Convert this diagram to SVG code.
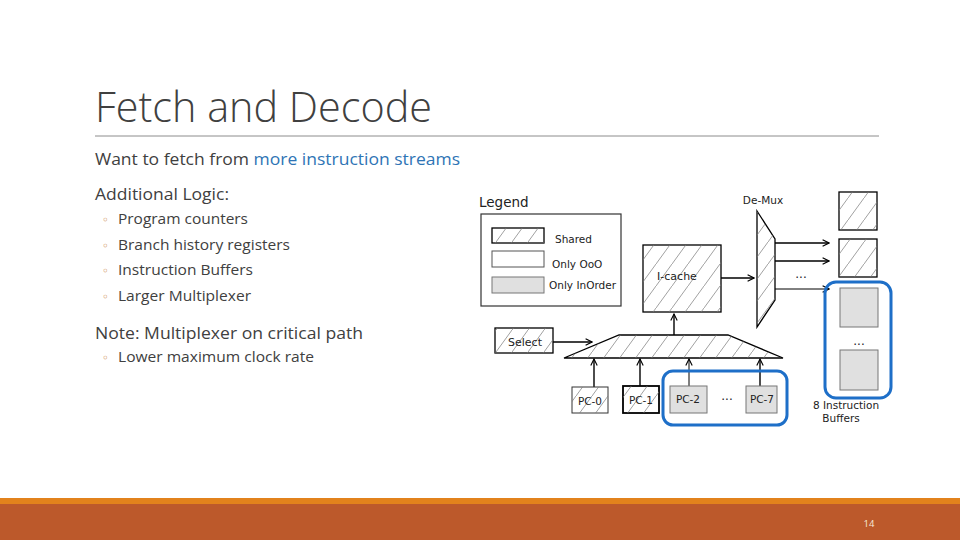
<svg xmlns="http://www.w3.org/2000/svg" width="960" height="540" viewBox="0 0 960 540">
<defs>
<pattern id="hatch" patternUnits="userSpaceOnUse" width="16" height="22">
<path d="M-2,24.75 L18,-2.75" stroke="#777" stroke-width="0.7" fill="none"/>
</pattern>
<marker id="arr" viewBox="0 0 10 10" refX="9" refY="5" markerWidth="8" markerHeight="8" orient="auto" markerUnits="userSpaceOnUse">
<path d="M1,1 L9,5 L1,9" fill="none" stroke="#000" stroke-width="1.4"/>
</marker>
</defs>
<style>
.slide{font-family:"Open Sans","Liberation Sans",sans-serif;fill:#404040}
.dg{font-family:"DejaVu Sans","Liberation Sans",sans-serif;fill:#222}
.box{stroke:#000;stroke-width:1.3}
.hat{fill:url(#hatch)}
.gray{fill:#e0e0e0;stroke:#777;stroke-width:1}
.blue{fill:none;stroke:#1e6fc8;stroke-width:3}
.conn line{stroke:#000;stroke-width:1.4;marker-end:url(#arr)}
</style>
<rect width="960" height="540" fill="#fff"/>
<!-- slide text -->
<text class="slide" x="95" y="122" font-size="42" textLength="337" lengthAdjust="spacingAndGlyphs" font-weight="300">Fetch and Decode</text>
<line x1="95" y1="136" x2="879" y2="136" stroke="#8c8c8c" stroke-width="1"/>
<text class="slide" x="95" y="165" font-size="16.5" textLength="365" lengthAdjust="spacingAndGlyphs">Want to fetch from <tspan fill="#2e74b5">more instruction streams</tspan></text>
<text class="slide" x="95" y="200" font-size="17" textLength="134" lengthAdjust="spacingAndGlyphs">Additional Logic:</text>
<g font-size="12" fill="#c8803f" font-family="DejaVu Sans,sans-serif">
<text x="102" y="224">◦</text><text x="102" y="250">◦</text><text x="102" y="275">◦</text><text x="102" y="301">◦</text><text x="102" y="362">◦</text>
</g>
<text class="slide" x="118" y="224" font-size="14.5" textLength="130" lengthAdjust="spacingAndGlyphs">Program counters</text>
<text class="slide" x="118" y="250" font-size="14.5" textLength="172" lengthAdjust="spacingAndGlyphs">Branch history registers</text>
<text class="slide" x="118" y="275" font-size="14.5" textLength="135" lengthAdjust="spacingAndGlyphs">Instruction Buffers</text>
<text class="slide" x="118" y="301" font-size="14.5" textLength="133" lengthAdjust="spacingAndGlyphs">Larger Multiplexer</text>
<text class="slide" x="95" y="339" font-size="17" textLength="268" lengthAdjust="spacingAndGlyphs">Note: Multiplexer on critical path</text>
<text class="slide" x="118" y="362" font-size="14.5" textLength="196" lengthAdjust="spacingAndGlyphs">Lower maximum clock rate</text>

<!-- legend -->
<g id="legend">
<text class="dg" x="479" y="207" font-size="13.5">Legend</text>
<rect x="481" y="214" width="140" height="92" fill="#fff" stroke="#333" stroke-width="1.2"/>
<rect x="492" y="228" width="52" height="15" fill="#fff" class="box" stroke-width="1"/>
<rect x="492" y="228" width="52" height="15" class="hat"/>
<text class="dg" x="555" y="243" font-size="10.5">Shared</text>
<rect x="492" y="251" width="52" height="16" fill="#fff" stroke="#555" stroke-width="1"/>
<text class="dg" x="552" y="268" font-size="10.5">Only OoO</text>
<rect x="492" y="277" width="52" height="16" class="gray"/>
<text class="dg" x="549" y="289" font-size="10.5">Only InOrder</text>
</g>

<!-- connectors -->
<g id="connectors" class="conn">
<line x1="721" y1="278" x2="754" y2="278"/>
<line x1="775" y1="243" x2="829" y2="243"/>
<line x1="775" y1="261" x2="829" y2="261"/>
<line x1="775" y1="289" x2="829" y2="289" style="stroke-width:1"/>
<line x1="674" y1="335" x2="674" y2="314"/>
<line x1="553" y1="342" x2="592" y2="342"/>
<line x1="594" y1="387" x2="594" y2="359"/>
<line x1="640" y1="386" x2="640" y2="359"/>
<line x1="689" y1="386" x2="689" y2="359" style="stroke-width:1"/>
<line x1="760" y1="386" x2="760" y2="359"/>
</g>

<g id="icache">
<rect x="643" y="245" width="78" height="67" fill="#fff" class="box"/>
<rect x="643" y="245" width="78" height="67" class="hat"/>
<text class="dg" x="677" y="280" font-size="11" text-anchor="middle">I-cache</text>
</g>

<g id="demux">
<text class="dg" x="763" y="204" font-size="10.5" text-anchor="middle">De-Mux</text>
<polygon points="757,211 775,239 775,300 757,327" fill="#fff" class="box"/>
<polygon points="757,211 775,239 775,300 757,327" class="hat"/>
<text class="dg" x="801" y="278" font-size="12" text-anchor="middle">...</text>
</g>

<g id="buffers">
<rect x="839" y="192" width="38" height="38" fill="#fff" class="box"/>
<rect x="839" y="192" width="38" height="38" class="hat"/>
<rect x="839" y="239" width="38" height="38" fill="#fff" class="box"/>
<rect x="839" y="239" width="38" height="38" class="hat"/>
<rect x="825" y="282" width="66" height="116" rx="11" class="blue"/>
<rect x="840" y="288" width="38" height="39" class="gray"/>
<text class="dg" x="859" y="345" font-size="12" text-anchor="middle">...</text>
<rect x="840" y="350" width="38" height="40" class="gray"/>
<text class="dg" x="846" y="409" font-size="10.5" text-anchor="middle">8 Instruction</text>
<text class="dg" x="841" y="422" font-size="10.5" text-anchor="middle">Buffers</text>
</g>

<g id="select">
<rect x="495" y="328" width="58" height="25" fill="#fff" class="box"/>
<rect x="495" y="328" width="58" height="25" class="hat"/>
<text class="dg" x="525" y="346" font-size="11" text-anchor="middle">Select</text>
</g>

<g id="mux">
<polygon points="619,335 728,335 783,358 564,358" fill="#fff" class="box"/>
<polygon points="619,335 728,335 783,358 564,358" class="hat"/>
</g>

<g id="pc0">
<rect x="572" y="387" width="36" height="26" fill="#fff" stroke="#333" stroke-width="1"/>
<rect x="572" y="387" width="36" height="26" class="hat"/>
<text class="dg" x="590" y="405" font-size="10.5" text-anchor="middle">PC-0</text>
</g>
<g id="pc1">
<rect x="623" y="386" width="36" height="27" fill="#fff" stroke="#000" stroke-width="1.8"/>
<rect x="623" y="386" width="36" height="27" class="hat"/>
<text class="dg" x="641" y="404" font-size="10.5" text-anchor="middle">PC-1</text>
</g>
<g id="pc2">
<rect x="670" y="386" width="37" height="27" class="gray"/>
<text class="dg" x="688" y="403" font-size="10.5" text-anchor="middle">PC-2</text>
</g>
<text class="dg" x="727" y="400" font-size="12" text-anchor="middle">...</text>
<g id="pc7">
<rect x="746" y="386" width="31" height="27" class="gray"/>
<text class="dg" x="762" y="403" font-size="10.5" text-anchor="middle">PC-7</text>
</g>
<rect x="663" y="371" width="124" height="54" rx="10" class="blue"/>

<!-- footer -->
<rect x="0" y="498" width="960" height="7" fill="#e2821c"/>
<rect x="0" y="504" width="960" height="36" fill="#bc592b"/>
<text x="869" y="527" font-size="9.5" font-family="Open Sans,Liberation Sans,sans-serif" fill="#f7ead8" text-anchor="middle">14</text>
</svg>
